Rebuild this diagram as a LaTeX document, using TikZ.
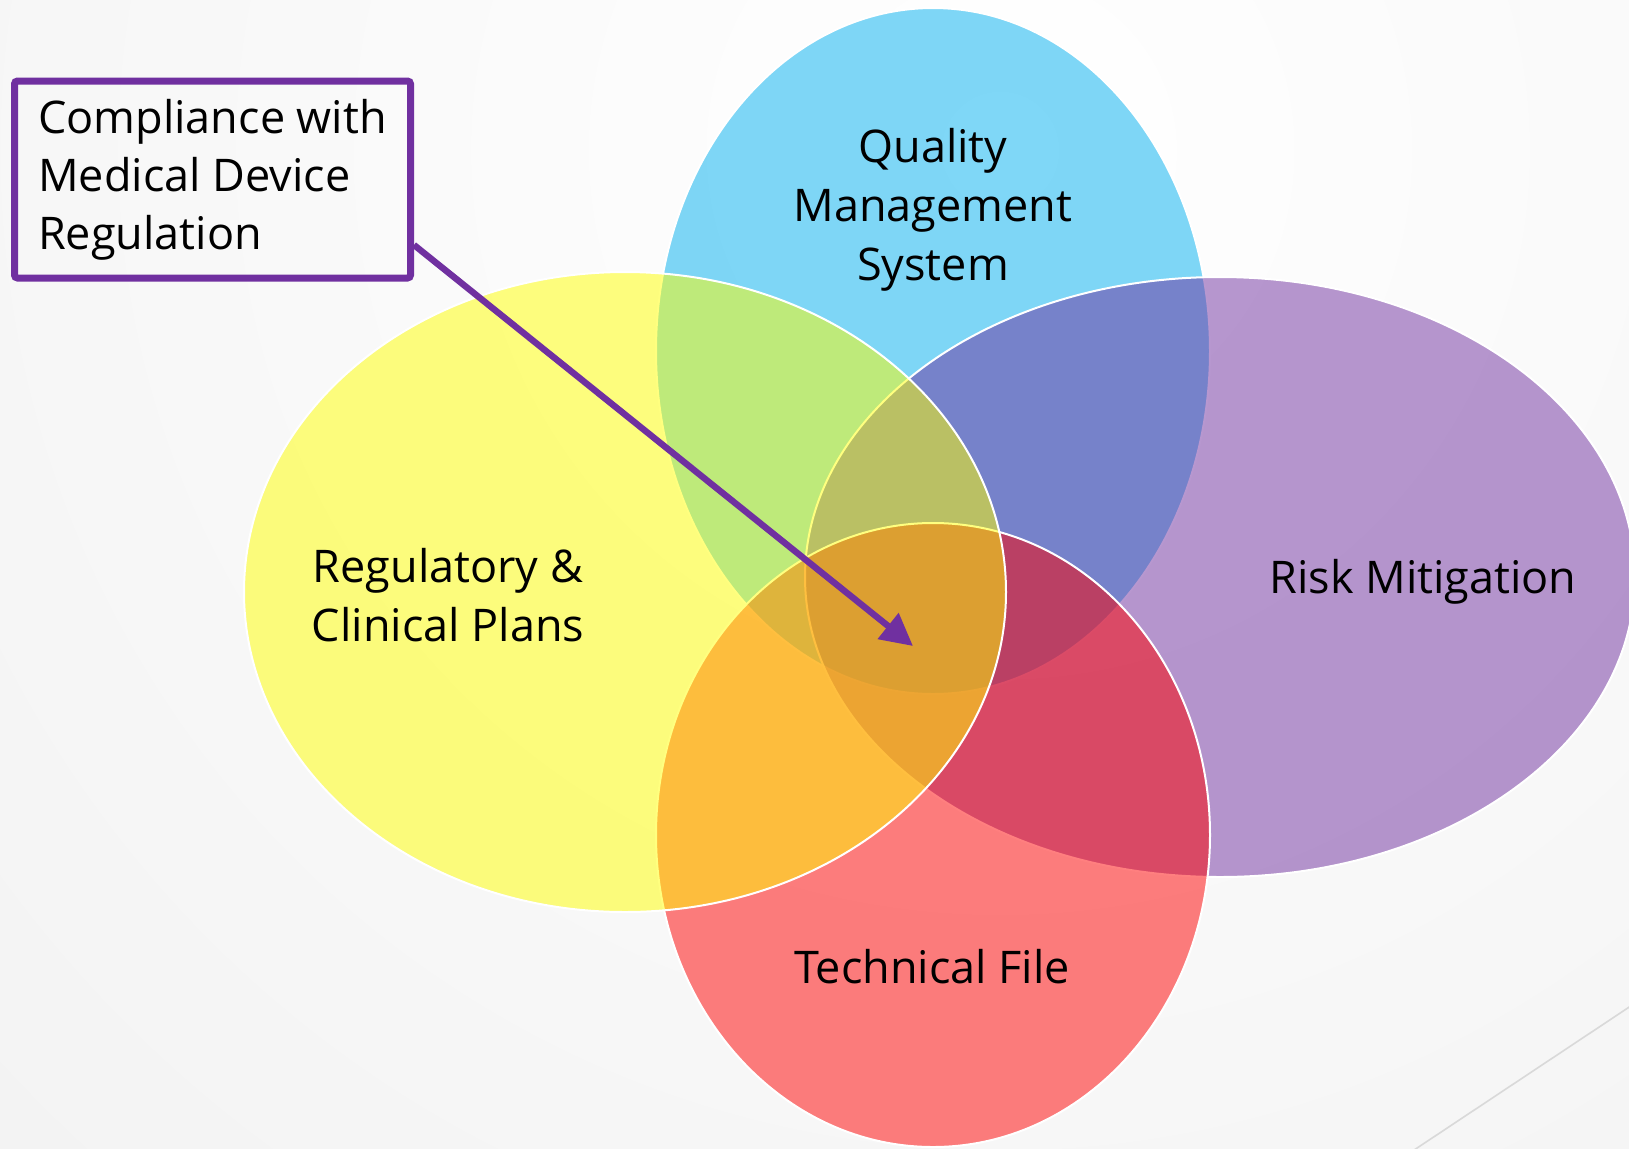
\documentclass[tikz,border=0pt]{standalone}
\usepackage{fontspec}
\setmainfont{Open Sans}
\usepackage{tikz}
\usetikzlibrary{shapes.geometric, arrows.meta}

\definecolor{qmsblue}{HTML}{00B0F0}
\definecolor{riskpurple}{HTML}{7030A0}
\definecolor{techred}{HTML}{FF0000}
\definecolor{regyellow}{HTML}{FFFF00}

\begin{document}
\begin{tikzpicture}[
    x=0.5pt, y=-0.5pt,
    venn/.style={ellipse, draw=white, line width=1pt, fill opacity=0.5, draw opacity=1, inner sep=0pt},
    settext/.style={font=\fontsize{22.5}{29.5}\selectfont, align=center, inner sep=0pt},
    callout/.style={draw=riskpurple, line width=3.5pt, rounded corners=1.5pt, minimum width=198pt, minimum height=98.5pt, align=left, font=\fontsize{22.5}{29}\selectfont},
    pointer/.style={draw=riskpurple, line width=3.2pt, -{Triangle[length=16pt,width=16pt]}}
]
\useasboundingbox (0,0) rectangle (1629,1148);
\begin{scope}
\clip (0,0) rectangle (1629,1148);
\shade[inner color=white, outer color=black!6] (1000,150) circle (1800);
\end{scope}

% the four sets, back to front
\node[venn, fill=qmsblue, minimum width=277pt, minimum height=343pt] (qms) at (933,351) {};
\node[venn, fill=riskpurple, minimum width=415pt, minimum height=300pt] (risk) at (1220,577) {};
\node[venn, fill=techred, minimum width=277pt, minimum height=312pt] (tech) at (933,835) {};
\node[venn, fill=regyellow, minimum width=381pt, minimum height=320pt] (reg) at (625,592) {};

\node[settext] (qmslabel) at (933,210) {Quality\\Management\\System};
\node[settext] (reglabel) at (448,595) {Regulatory \&\\Clinical Plans};
\node[settext, anchor=base] (risklabel) at (1423,593) {Risk Mitigation};
\node[settext, anchor=base] (techlabel) at (932,983) {Technical File};

\node[callout] (mdr) at (212.5,179.5) {Compliance with\\Medical Device\\Regulation};
\coordinate (core) at (913,646);
\draw[pointer] (mdr.-18) -- (core);

\draw[black!15, line width=0.8pt] (1700,960) -- (1390,1166);
\end{tikzpicture}
\end{document}
